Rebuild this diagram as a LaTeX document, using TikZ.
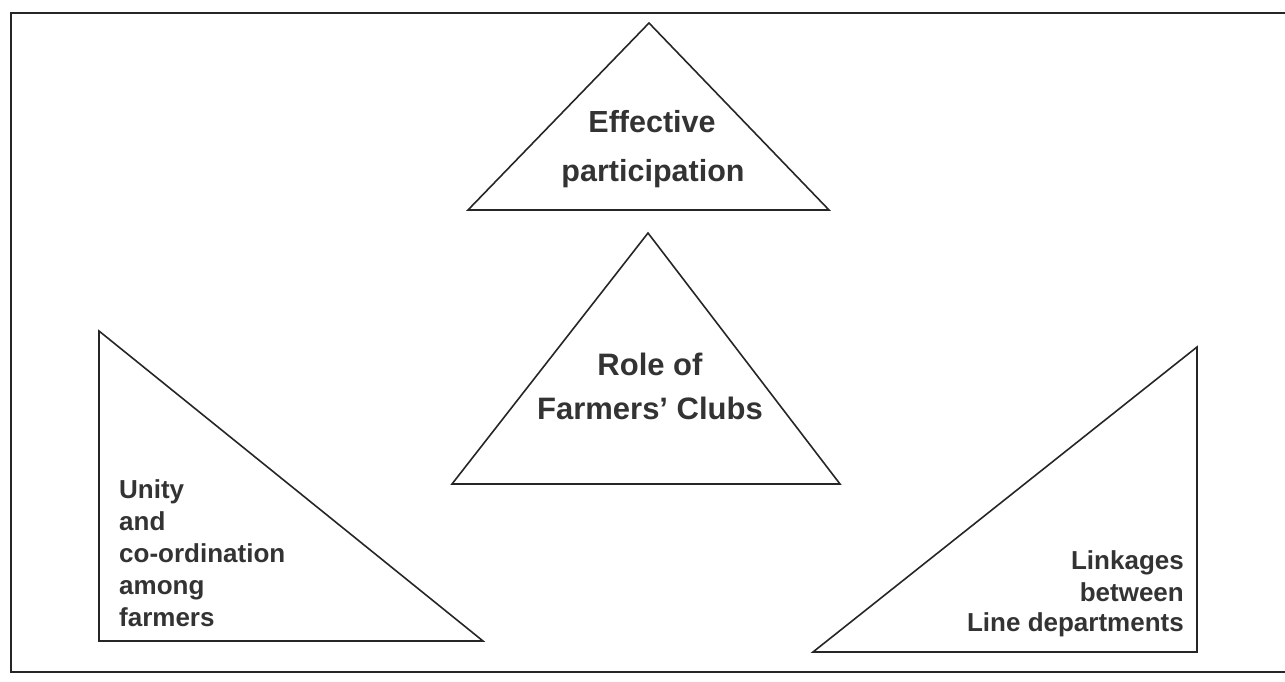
\documentclass[tikz,border=0pt]{standalone}
\usepackage{fontspec}
\setmainfont{Liberation Sans}
\begin{document}
\begin{tikzpicture}[x=1pt,y=-1pt,
  frame/.style={draw=black!85,line width=2.4pt},
  tri/.style={draw=black!85,line width=1.6pt,line join=miter},
  lbl/.style={inner sep=0pt,text=black!80,font=\bfseries\fontsize{#1}{#1}\selectfont},
  lbl/.default=26]
\useasboundingbox (0,0) rectangle (1285,682);
\begin{scope}
  \clip (0,0) rectangle (1285,682);
  % outer frame, running off the right edge
  \draw[frame] (1300,13) -- (11,13) -- (11,672) -- (1300,672);
\end{scope}

% top triangle
\coordinate (tA) at (649,23);
\coordinate (tB) at (468,210);
\coordinate (tC) at (829,210);
\draw[tri] (tA) -- (tB) -- (tC) -- cycle;
\node[lbl=30.5,anchor=base] (t1) at (652,132) {Effective};
\node[lbl=30.5,anchor=base] (t2) at (653,182) {participation};

% centre triangle
\coordinate (cA) at (648,233);
\coordinate (cB) at (452,484);
\coordinate (cC) at (840,484);
\draw[tri] (cA) -- (cB) -- (cC) -- cycle;
\node[lbl=31,anchor=base] (c1) at (650,375) {Role of};
\node[lbl=31,anchor=base] (c2) at (650,419) {Farmers’ Clubs};

% left right-angled triangle
\coordinate (lA) at (99,331);
\coordinate (lB) at (99,641);
\coordinate (lC) at (483,641);
\draw[tri] (lA) -- (lB) -- (lC) -- cycle;
\node[lbl=26,anchor=base west] (l1) at (119,498) {Unity};
\node[lbl=26,anchor=base west] (l2) at (119,530) {and};
\node[lbl=26,anchor=base west] (l3) at (119,562) {co-ordination};
\node[lbl=26,anchor=base west] (l4) at (119,594) {among};
\node[lbl=26,anchor=base west] (l5) at (119,626) {farmers};

% right right-angled triangle
\coordinate (rA) at (1197,347);
\coordinate (rB) at (813,652);
\coordinate (rC) at (1197,652);
\draw[tri] (rA) -- (rB) -- (rC) -- cycle;
\node[lbl=26,anchor=base east] (r1) at (1184,569) {Linkages};
\node[lbl=26,anchor=base east] (r2) at (1184,601) {between};
\node[lbl=26,anchor=base east] (r3) at (1184,631) {Line departments};
\end{tikzpicture}
\end{document}
